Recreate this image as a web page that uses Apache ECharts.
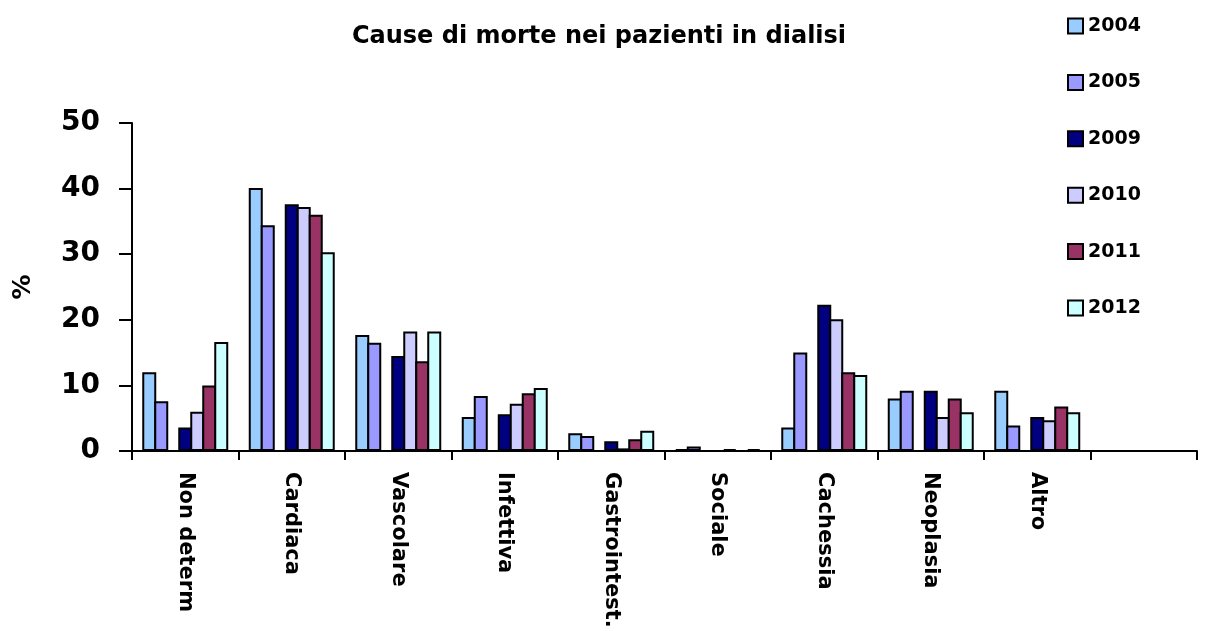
<!DOCTYPE html>
<html>
<head>
<meta charset="utf-8">
<script src="https://cdn.jsdelivr.net/npm/echarts@6/dist/echarts.min.js"></script>
<style>
html,body{margin:0;padding:0;background:#fff;}
#chart{width:1223px;height:631px;}
</style>
</head>
<body>
<div id="chart"></div>
<script>
const categories = ['Non determ', 'Cardiaca', 'Vascolare', 'Infettiva', 'Gastrointest.', 'Sociale', 'Cachessia', 'Neoplasia', 'Altro', ''];
const years = ['2004', '2005', '2009', '2010', '2011', '2012'];
const v2004 = [12.0, 40.1, 17.7, 5.2, 2.7, 0.3, 3.6, 8.0, 9.2, null];
const v2005 = [7.6, 34.4, 16.5, 8.4, 2.3, 0.7, 15.0, 9.2, 3.9, null];
const v2009 = [3.6, 37.6, 14.5, 5.6, 1.5, 0, 22.3, 9.2, 5.2, null];
const v2010 = [6.0, 37.2, 18.2, 7.2, 0.4, 0.3, 20.1, 5.2, 4.7, null];
const v2011 = [10.0, 36.0, 13.7, 8.8, 1.8, 0, 12.0, 8.0, 6.8, null];
const v2012 = [16.6, 30.3, 18.2, 9.6, 3.1, 0.3, 11.6, 5.9, 5.9, null];
const emptySlot = [null, null, null, null, null, null, null, null, null, null];
const colors = ['#99CCFF', '#9999FF', '#000080', '#CCCCFF', '#993366', '#CCFFFF'];
const yTicks = [0, 10, 20, 30, 40, 50];

const FONT = 'DejaVu Sans';
const BAR_W = 14;
const BAR_GAP = '-14.3%';
const seriesValues = [v2004, v2005, v2009, v2010, v2011, v2012];
const series = [];
seriesValues.forEach(function (vals, i) {
  series.push({
    name: years[i],
    type: 'bar',
    data: vals,
    barWidth: BAR_W,
    barGap: BAR_GAP,
    itemStyle: { color: colors[i], borderColor: '#000', borderWidth: 2 },
    emphasis: { disabled: true }
  });
  if (i === 1) {
    series.push({
      name: 'gap',
      type: 'bar',
      data: emptySlot,
      barWidth: BAR_W,
      barGap: BAR_GAP,
      itemStyle: { color: 'transparent' },
      emphasis: { disabled: true }
    });
  }
});

const chart = echarts.init(document.getElementById('chart'), null, { renderer: 'canvas' });
chart.setOption({
  animation: false,
  backgroundColor: '#fff',
  title: {
    text: 'Cause di morte nei pazienti in dialisi',
    left: 594,
    top: 20,
    textAlign: 'center',
    textStyle: { fontFamily: FONT, fontSize: 24, fontWeight: 'bold', color: '#000' }
  },
  legend: {
    data: years,
    orient: 'vertical',
    left: 1062,
    top: 11,
    padding: 5,
    itemWidth: 15,
    itemHeight: 15,
    itemGap: 36.4,
    icon: 'rect',
    selectedMode: false,
    itemStyle: { borderColor: '#000', borderWidth: 2 },
    textStyle: { fontFamily: FONT, fontSize: 19, fontWeight: 'bold', color: '#000', lineHeight: 20 }
  },
  grid: { left: 132, right: 26, top: 123, bottom: 180, containLabel: false },
  xAxis: {
    type: 'category',
    data: categories,
    axisLine: { show: true, lineStyle: { color: '#000', width: 2 } },
    axisTick: { show: true, length: 9, interval: 0, lineStyle: { color: '#000', width: 2 } },
    axisLabel: {
      interval: 0,
      rotate: -90,
      margin: 21,
      fontFamily: FONT,
      fontSize: 21,
      fontWeight: 'bold',
      color: '#000'
    },
    splitLine: { show: false }
  },
  yAxis: {
    type: 'value',
    min: 0,
    max: 50,
    interval: 10,
    axisLine: { show: true, lineStyle: { color: '#000', width: 2 } },
    axisTick: { show: true, inside: false, length: 13, lineStyle: { color: '#000', width: 2 } },
    axisLabel: {
      margin: 32,
      fontFamily: FONT,
      fontSize: 28,
      fontWeight: 'bold',
      color: '#000',
      formatter: function (v) { return yTicks.indexOf(v) >= 0 ? String(v) : ''; }
    },
    splitLine: { show: false }
  },
  graphic: [{
    type: 'text',
    x: 23,
    y: 287,
    rotation: Math.PI / 2,
    style: {
      text: '%',
      fontFamily: FONT,
      fontSize: 25,
      fontWeight: 'bold',
      fill: '#000',
      align: 'center',
      verticalAlign: 'middle'
    }
  }],
  series: series
});
</script>
</body>
</html>
